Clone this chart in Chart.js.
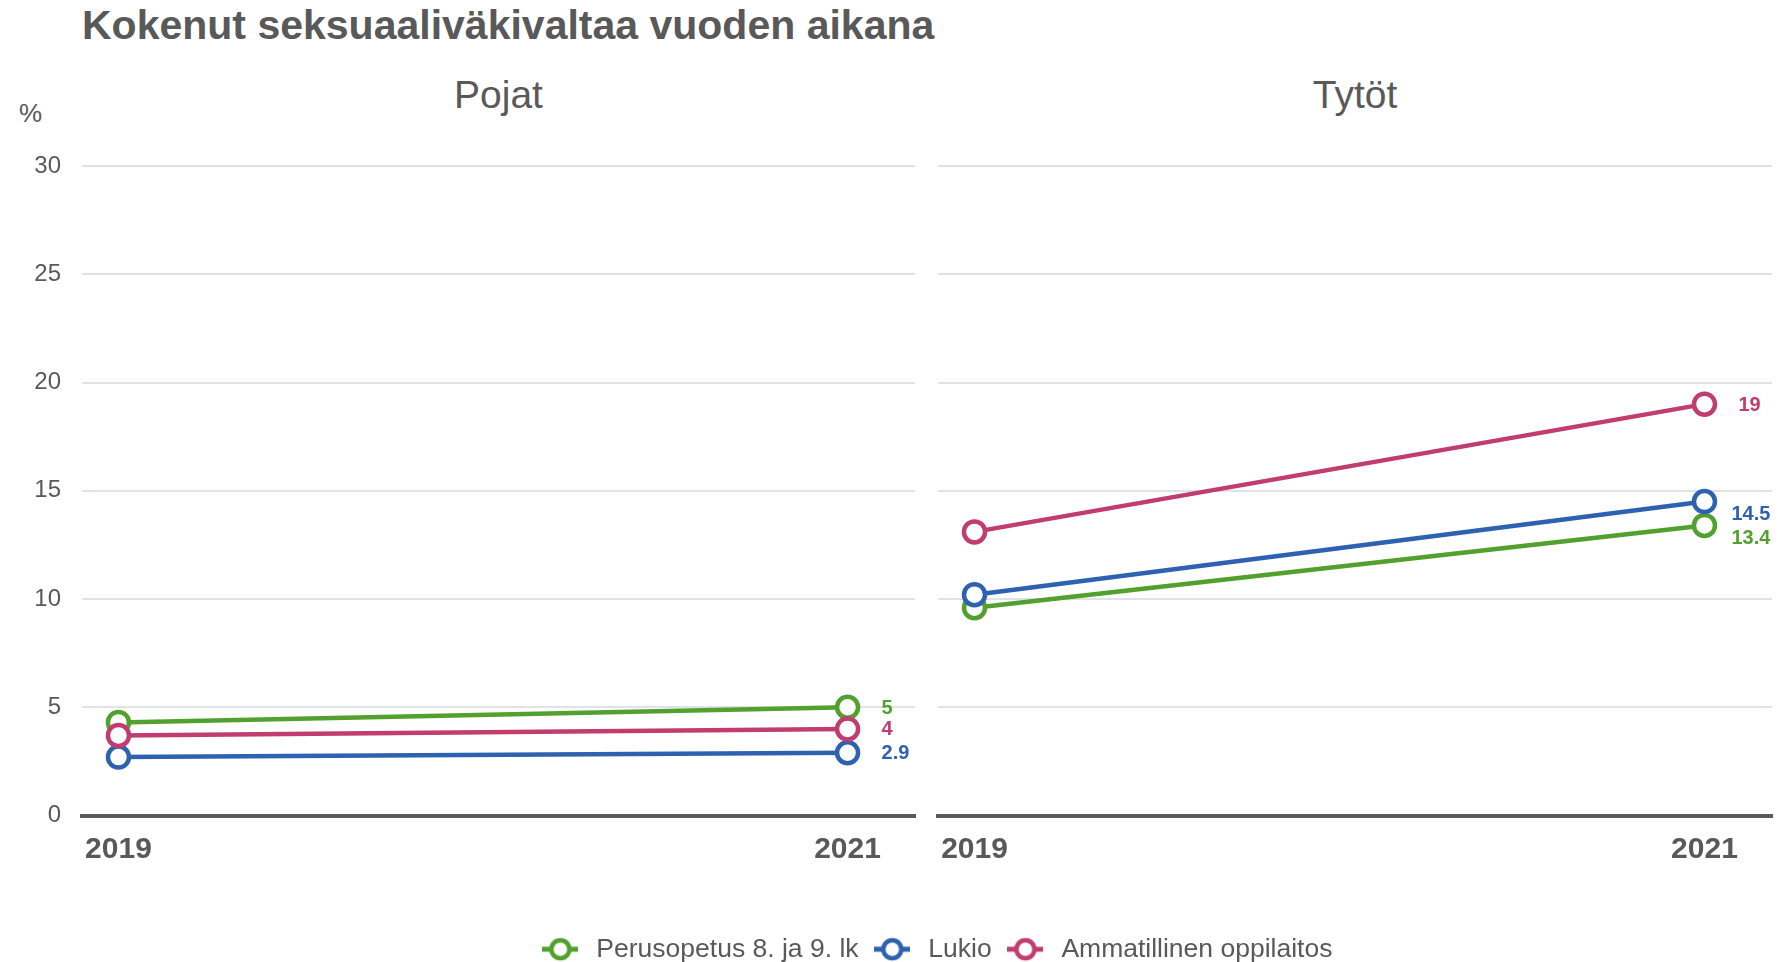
<!DOCTYPE html>
<html>
<head>
<meta charset="utf-8">
<script src="https://cdn.jsdelivr.net/npm/chart.js@4.4.1/dist/chart.umd.min.js"></script>
<style>
  body { margin: 0; background: #fff; font-family: "Liberation Sans", Arial, sans-serif; }
  #wrap { position: relative; width: 1781px; height: 962px; overflow: hidden; }
  .txt { position: absolute; color: #595959; white-space: nowrap; line-height: 1.15; }
  .box { position: absolute; }
</style>
</head>
<body>
<div id="wrap">
  <div class="txt" style="left:82px;top:2px;font-size:41px;font-weight:bold">Kokenut seksuaaliväkivaltaa vuoden aikana</div>
  <div class="txt" style="left:19px;top:99px;font-size:26px">%</div>
  <div class="txt" style="left:82px;width:833px;text-align:center;top:73px;font-size:39px">Pojat</div>
  <div class="txt" style="left:938px;width:834px;text-align:center;top:73px;font-size:39px">Tytöt</div>
  <div class="box" style="left:0;top:140px;width:925px;height:740px"><canvas id="c-pojat"></canvas></div>
  <div class="box" style="left:925px;top:140px;width:856px;height:740px"><canvas id="c-tytot"></canvas></div>
  <div class="box" style="left:90px;top:925px;width:1690px;height:37px"><canvas id="c-legend"></canvas></div>
</div>
<script>
// data
var years = [2019, 2021];
var seriesNames = ['Perusopetus 8. ja 9. lk', 'Lukio', 'Ammatillinen oppilaitos'];
var seriesColors = ['#52a02e', '#2e62b0', '#c13c6f'];

var pojatPerus = [4.3, 5];
var pojatLukio = [2.7, 2.9];
var pojatAmm   = [3.7, 4];

var tytotPerus = [9.6, 13.4];
var tytotLukio = [10.2, 14.5];
var tytotAmm   = [13.1, 19];

var yMin = 0, yMax = 30, yStep = 5;

var FONT = '"Liberation Sans", Arial, sans-serif';
var GREY = '#595959';

Chart.defaults.font.family = FONT;
Chart.defaults.color = GREY;

function makeDatasets(series) {
  return series.map(function(vals, i) {
    return {
      label: seriesNames[i],
      data: years.map(function(y, j) { return { x: y, y: vals[j] }; }),
      borderColor: seriesColors[i],
      backgroundColor: '#fff',
      pointBackgroundColor: '#fff',
      pointBorderColor: seriesColors[i],
      pointBorderWidth: 4.5,
      pointRadius: 10.5,
      borderWidth: 4.5,
      order: 3 - i
    };
  });
}

// end-of-line value labels
var valueLabels = {
  id: 'valueLabels',
  afterDatasetsDraw: function(chart, args, opts) {
    var ctx = chart.ctx;
    ctx.save();
    ctx.font = 'bold 20px ' + FONT;
    ctx.textBaseline = 'middle';
    ctx.textAlign = 'left';
    chart.data.datasets.forEach(function(ds, i) {
      var meta = chart.getDatasetMeta(i);
      var pt = meta.data[meta.data.length - 1];
      var v = ds.data[ds.data.length - 1].y;
      var n = (opts.nudge && opts.nudge[i]) || { dx: 0, dy: 0 };
      ctx.fillStyle = ds.borderColor;
      ctx.fillText(String(v), pt.x + 34 + n.dx, pt.y + 1 + n.dy);
    });
    ctx.restore();
  }
};

function panelOptions(showY, axisWidth, padRight, nudge) {
  return {
    responsive: true,
    maintainAspectRatio: false,
    animation: false,
    layout: { autoPadding: false, padding: { top: 26, right: padRight, left: 0, bottom: 0 } },
    plugins: {
      legend: { display: false },
      tooltip: { enabled: false },
      valueLabels: { nudge: nudge }
    },
    scales: {
      x: {
        type: 'linear',
        min: 2018.9,
        max: 2021.185,
        afterBuildTicks: function(s) { s.ticks = years.map(function(y) { return { value: y }; }); },
        afterFit: function(s) { s.height = 64.5; s.paddingLeft = 0; s.paddingRight = 0; },
        ticks: {
          callback: function(v) { return String(v); },
          font: { size: 30, weight: 'bold' },
          color: GREY,
          padding: 8,
          maxRotation: 0,
          autoSkip: false
        },
        grid: { display: false },
        border: { color: GREY, width: 4 }
      },
      y: {
        min: yMin,
        max: yMax,
        afterFit: function(s) { s.width = axisWidth; s.paddingTop = 0; s.paddingBottom = 0; },
        ticks: {
          display: showY,
          stepSize: yStep,
          font: { size: 24 },
          color: GREY,
          padding: 21
        },
        grid: {
          drawTicks: false,
          lineWidth: 2,
          color: function(c) { return c.tick && c.tick.value === 0 ? 'rgba(0,0,0,0)' : '#dfe2e6'; }
        },
        border: { display: false }
      }
    }
  };
}

new Chart(document.getElementById('c-pojat'), {
  type: 'line',
  data: { datasets: makeDatasets([pojatPerus, pojatLukio, pojatAmm]) },
  options: panelOptions(true, 82, 10, null),
  plugins: [valueLabels]
});

new Chart(document.getElementById('c-tytot'), {
  type: 'line',
  data: { datasets: makeDatasets([tytotPerus, tytotLukio, tytotAmm]) },
  options: panelOptions(false, 13, 9, [{ dx: -7, dy: 12 }, { dx: -7, dy: 12 }, { dx: 0, dy: 0 }]),
  plugins: [valueLabels]
});

// legend markers: short line with open circle
function marker(color) {
  var c = document.createElement('canvas');
  c.width = 36; c.height = 28;
  var g = c.getContext('2d');
  g.strokeStyle = color;
  g.lineWidth = 5;
  g.beginPath(); g.moveTo(0, 14); g.lineTo(36, 14); g.stroke();
  g.beginPath(); g.arc(18, 14, 9, 0, Math.PI * 2);
  g.fillStyle = '#fff'; g.fill();
  g.lineWidth = 4.5; g.stroke();
  return c;
}
var markers = seriesColors.map(marker);

new Chart(document.getElementById('c-legend'), {
  type: 'line',
  data: { datasets: seriesNames.map(function(n, i) { return { label: n, data: [], borderColor: seriesColors[i] }; }) },
  options: {
    responsive: true,
    maintainAspectRatio: false,
    animation: false,
    layout: { padding: 0 },
    scales: { x: { display: false }, y: { display: false } },
    plugins: {
      tooltip: { enabled: false },
      legend: {
        display: true,
        position: 'top',
        maxHeight: 200,
        labels: {
          usePointStyle: true,
          pointStyleWidth: 45.5,
          padding: 11,
          color: GREY,
          font: { size: 26.5 },
          generateLabels: function() {
            return seriesNames.map(function(n, i) {
              return { text: n, pointStyle: markers[i], fillStyle: '#fff', strokeStyle: seriesColors[i],
                       lineWidth: 0, hidden: false, datasetIndex: i, fontColor: GREY };
            });
          }
        }
      }
    }
  }
});
</script>
</body>
</html>
